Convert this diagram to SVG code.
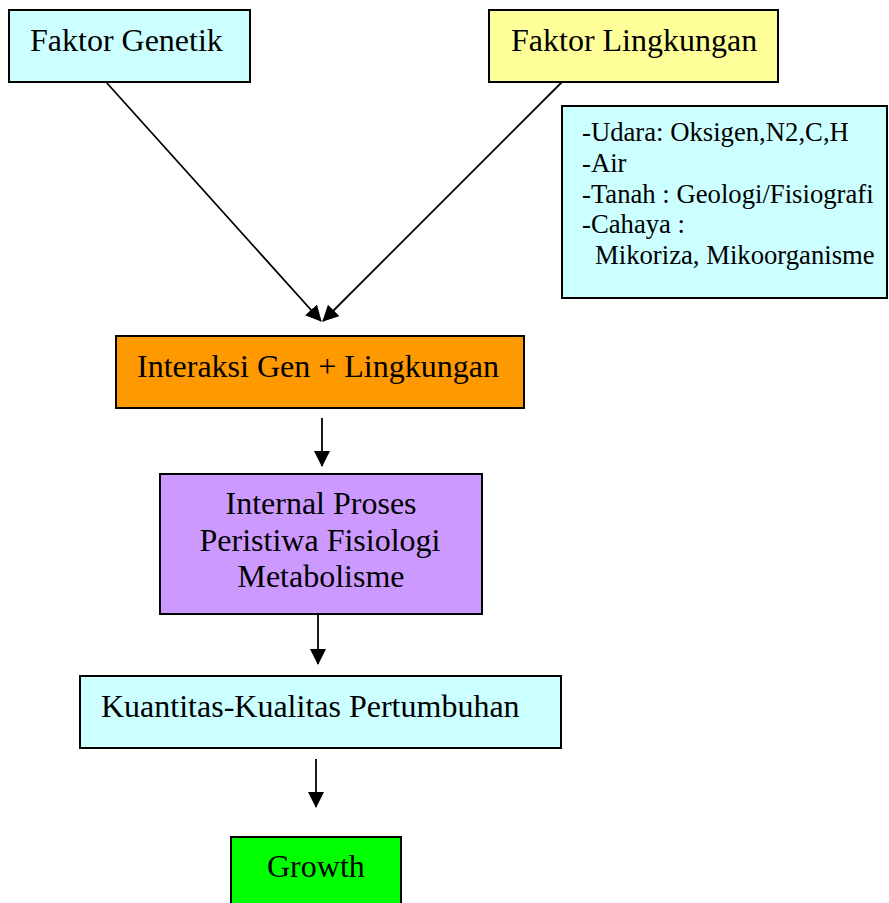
<svg xmlns="http://www.w3.org/2000/svg" width="889" height="903" viewBox="0 0 889 903">
<style>
.box{stroke:#000;stroke-width:2}
.t{font-family:"Liberation Serif","Times New Roman",serif;font-size:32px;fill:#000}
.s{font-family:"Liberation Serif","Times New Roman",serif;font-size:26.7px;fill:#000}
.c{stroke:#000;stroke-width:1.8;fill:none;marker-end:url(#ah)}
</style>
<defs>
<marker id="ah" markerUnits="userSpaceOnUse" markerWidth="16" markerHeight="16" viewBox="0 0 16 16" refX="15" refY="8" orient="auto">
<path d="M0,0 L16,8 L0,16 Z" fill="#000"/>
</marker>
</defs>
<rect width="889" height="903" fill="#fff"/>
<g id="connectors">
<line class="c" x1="106" y1="82" x2="321" y2="321"/>
<line class="c" x1="562" y1="82" x2="323" y2="321"/>
<line class="c" x1="322" y1="418" x2="322" y2="466"/>
<line class="c" x1="318" y1="614" x2="318" y2="664"/>
<line class="c" x1="316" y1="759" x2="316" y2="807"/>
</g>
<g id="faktor-genetik">
<rect class="box" x="9" y="10" width="241" height="72" fill="#CCFFFF"/>
<text class="t" x="30" y="51">Faktor Genetik</text>
</g>
<g id="faktor-lingkungan">
<rect class="box" x="489" y="10" width="289" height="72" fill="#FFFF99"/>
<text class="t" x="511" y="51">Faktor Lingkungan</text>
</g>
<g id="lingkungan-detail">
<rect class="box" x="562" y="106" width="325" height="192" fill="#CCFFFF"/>
<text class="s" x="582" y="141">-Udara: Oksigen,N2,C,H</text>
<text class="s" x="582" y="172">-Air</text>
<text class="s" x="582" y="203">-Tanah : Geologi/Fisiografi</text>
<text class="s" x="582" y="233">-Cahaya :</text>
<text class="s" x="595" y="264">Mikoriza, Mikoorganisme</text>
</g>
<g id="interaksi">
<rect class="box" x="116" y="336" width="408" height="72" fill="#FF9900"/>
<text class="t" x="137" y="377">Interaksi Gen + Lingkungan</text>
</g>
<g id="internal-proses">
<rect class="box" x="160" y="474" width="322" height="140" fill="#CC99FF"/>
<text class="t" x="321" y="514" text-anchor="middle">Internal Proses</text>
<text class="t" x="320" y="551" text-anchor="middle">Peristiwa Fisiologi</text>
<text class="t" x="321" y="587" text-anchor="middle">Metabolisme</text>
</g>
<g id="kuantitas">
<rect class="box" x="80" y="676" width="481" height="72" fill="#CCFFFF"/>
<text class="t" x="101" y="717">Kuantitas-Kualitas Pertumbuhan</text>
</g>
<g id="growth">
<rect class="box" x="231" y="837" width="170" height="80" fill="#00FF00"/>
<text class="t" x="267" y="877">Growth</text>
</g>
</svg>
